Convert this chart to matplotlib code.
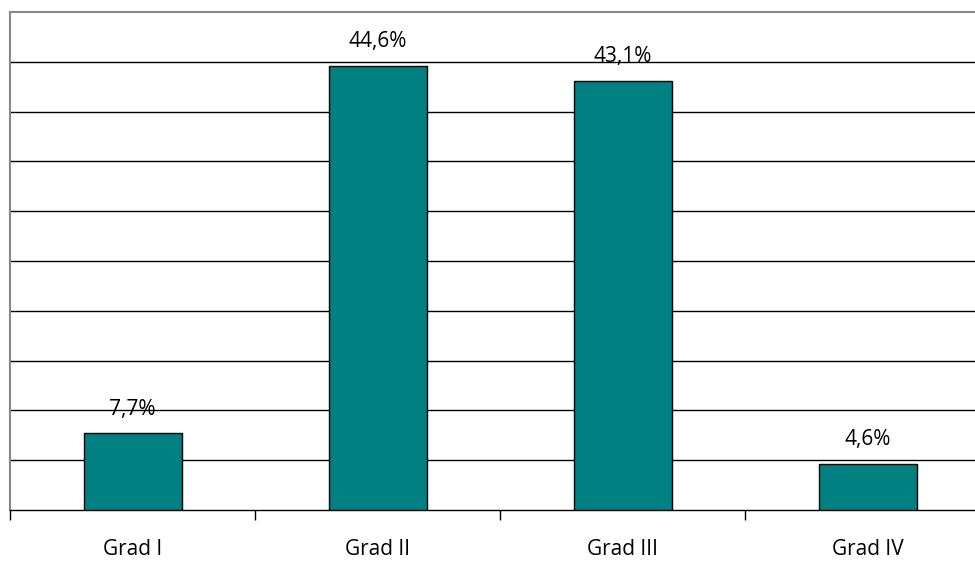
import matplotlib.pyplot as plt
import numpy as np

categories = ["Grad I", "Grad II", "Grad III", "Grad IV"]
values = [7.7, 44.6, 43.1, 4.6]
labels = ["7,7%", "44,6%", "43,1%", "4,6%"]

plt.rcParams['font.family'] = ['Open Sans', 'DejaVu Sans']

fig = plt.figure(figsize=(9.75, 5.61), dpi=100)
# plot area runs past the right edge of the image
ax = fig.add_axes([10/975, 51/561, 980/975, 498/561])

x = np.arange(len(categories))
ax.bar(x, values, width=0.4, color='#008080', edgecolor='black', linewidth=1, zorder=3)

for xi, v, lab in zip(x, values, labels):
    ax.annotate(lab, (xi, v), xytext=(0, 13.5), textcoords='offset points',
                ha='center', va='baseline', fontsize=15, zorder=4)

ax.set_xlim(-0.5, len(categories) - 0.5)
ax.set_ylim(0, 50)
ax.set_yticks(np.arange(5, 50, 5))
ax.yaxis.grid(True, color='black', linewidth=1, zorder=0)
ax.tick_params(axis='y', left=False, labelleft=False)

ax.set_xticks(np.arange(-0.5, len(categories), 1))
ax.set_xticklabels([])
ax.set_xticks(x, minor=True)
ax.set_xticklabels(categories, minor=True, fontsize=15)
ax.tick_params(axis='x', which='major', length=7, width=1, color='black', direction='out')
ax.tick_params(axis='x', which='minor', length=0, pad=21)

for s in ['top', 'left', 'right']:
    ax.spines[s].set_color('#888888')
    ax.spines[s].set_linewidth(1.5)
ax.spines['bottom'].set_color('black')
ax.spines['bottom'].set_linewidth(1)

fig.savefig('out.png', dpi=100)
